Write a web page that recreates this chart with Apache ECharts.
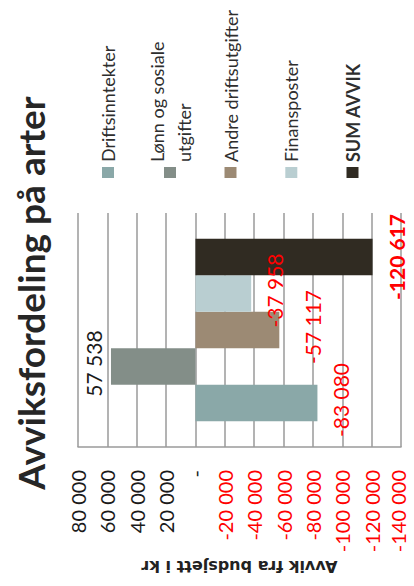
<!DOCTYPE html>
<html>
<head>
<meta charset="utf-8">
<script src="https://cdn.jsdelivr.net/npm/echarts@6/dist/echarts.min.js"></script>
<style>
  html, body { margin: 0; padding: 0; background: #ffffff; overflow: hidden; }
  body { width: 414px; height: 586px; position: relative; }
  /* The chart is laid out landscape and turned a quarter turn counter-clockwise */
  #chart {
    position: absolute; left: 0; top: 0;
    width: 586px; height: 414px;
    transform-origin: 0 0;
    transform: translate(0, 586px) rotate(-90deg);
  }
</style>
</head>
<body>
<div id="chart"></div>
<script>
// Deviation from budget per type, in NOK
const seriesNames = ['Driftsinntekter', 'Lønn og sosiale utgifter', 'Andre driftsutgifter', 'Finansposter', 'SUM AVVIK'];
const deviations = [-83080, 57538, -57117, -37958, -120617];
const seriesColors = ['#8aa8a8', '#838e88', '#9c8a74', '#b9ced1', '#302b22'];

// Value axis ticks and their printed labels (accounting style, zero shown as a dash)
const tickValues = [80000, 60000, 40000, 20000, 0, -20000, -40000, -60000, -80000, -100000, -120000, -140000];
const tickLabels = ['80 000', '60 000', '40 000', '20 000', '-', '-20 000', '-40 000', '-60 000', '-80 000', '-100 000', '-120 000', '-140 000'];

const chartTitle = 'Avviksfordeling på arter';
const axisTitle = 'Avvik fra budsjett i kr';

function formatNok(v) {
  const s = String(Math.abs(v)).replace(/\B(?=(\d{3})+(?!\d))/g, ' ');
  return (v < 0 ? '-' : '') + s;
}

const FONT = 'Lato, "Open Sans", sans-serif';
const legendCenters = [108, 170, 230.5, 291.3, 352.5];
const axisMin = Math.min.apply(null, tickValues);
const axisMax = Math.max.apply(null, tickValues);

const chart = echarts.init(document.getElementById('chart'), null, { renderer: 'svg' });

const legends = seriesNames.map(function (name, i) {
  const twoLine = i === 1;
  const lh = twoLine ? 27 : 22;
  return {
    orient: 'horizontal',
    left: 408,
    top: twoLine ? legendCenters[i] - 1.5 * lh : legendCenters[i] - 11,
    padding: 0,
    itemWidth: 11,
    itemHeight: 12,
    icon: 'rect',
    data: [name],
    formatter: function (n) { return twoLine ? n.replace(' utgifter', '\nutgifter') : n; },
    textStyle: {
      fontFamily: FONT,
      fontSize: 18,
      lineHeight: lh,
      color: '#2e2e2e',
      fontWeight: i === 4 ? 'bold' : 'normal',
      padding: twoLine ? [lh, 0, 0, 0] : 0
    }
  };
});

const labelDistance = [13, 6.5, 23, 13, 13];

const series = seriesNames.map(function (name, i) {
  const v = deviations[i];
  return {
    name: name,
    type: 'bar',
    data: [v],
    barWidth: 36.5,
    barGap: '0%',
    itemStyle: { color: seriesColors[i] },
    label: {
      show: true,
      position: v >= 0 ? 'top' : 'bottom',
      distance: labelDistance[i],
      offset: [i === 4 ? 0 : 3, 0],
      formatter: function (p) { return formatNok(p.value); },
      fontFamily: FONT,
      fontSize: 21,
      lineHeight: 21,
      fontWeight: i === 4 ? 'bold' : 'normal',
      color: v >= 0 ? '#1a1a1a' : '#ff0000'
    }
  };
});

chart.setOption({
  animation: false,
  backgroundColor: '#ffffff',
  title: {
    text: chartTitle,
    left: 'center',
    top: 12,
    padding: 0,
    textStyle: { fontFamily: FONT, fontWeight: 'bold', fontSize: 37, color: '#262626' }
  },
  legend: legends,
  grid: { left: 139, right: 213, top: 78, bottom: 7, containLabel: false },
  xAxis: {
    type: 'category',
    data: [''],
    axisLine: { show: false },
    axisTick: { show: false },
    axisLabel: { show: false },
    splitLine: { show: false }
  },
  yAxis: {
    type: 'value',
    min: axisMin,
    max: axisMax,
    interval: 20000,
    name: axisTitle,
    nameLocation: 'middle',
    nameRotate: 90,
    nameGap: 111,
    nameTextStyle: { fontFamily: '"DejaVu Sans", sans-serif', fontWeight: 'bold', fontSize: 16, color: '#222222' },
    axisLine: { show: true, lineStyle: { color: '#9a9a9a', width: 1.5 } },
    axisTick: { show: false },
    splitLine: { show: true, lineStyle: { color: '#9a9a9a', width: 1.5 } },
    axisLabel: {
      margin: 23,
      fontFamily: FONT,
      fontSize: 20,
      lineHeight: 14,
      formatter: function (v) {
        const k = tickValues.indexOf(v);
        const txt = k >= 0 ? tickLabels[k] : '';
        // the lowest label sits at the frame edge; lift it slightly inside
        return v === axisMin ? '{edge|' + txt + '}' : txt;
      },
      rich: {
        edge: { fontFamily: FONT, fontSize: 20, lineHeight: 14, color: '#ff0000', padding: [0, 0, 6, 0] }
      },
      color: function (v) { return Number(v) < 0 ? '#ff0000' : '#1a1a1a'; }
    }
  },
  series: series
});
</script>
</body>
</html>
